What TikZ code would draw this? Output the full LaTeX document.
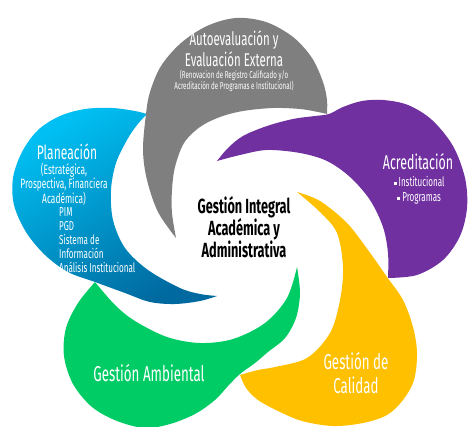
\documentclass[tikz,border=0pt]{standalone}
\usepackage{fontspec}
\setmainfont{Fira Sans}[FakeStretch=0.62]
\definecolor{pgray}{RGB}{127,127,127}
\definecolor{ppurple}{RGB}{112,48,160}
\definecolor{pyellow}{RGB}{255,192,0}
\definecolor{pgreen}{RGB}{0,204,102}
\definecolor{pblueA}{RGB}{0,192,243}
\definecolor{pblueB}{RGB}{0,106,160}
\newcommand\sqb{\raisebox{1.5pt}{\rule{3pt}{3pt}}}
\begin{document}
\begin{tikzpicture}[x=1pt,y=-1pt,
  petal/.style={smooth,tension=0.55},
  lbl/.style={text=white,align=center,inner sep=0pt}]
\useasboundingbox (0,0) rectangle (468,427);
% blue petal (Planeacion)
\shade[top color=pblueA,bottom color=pblueB,shading angle=30]
  plot[petal] coordinates {(217,296) (200,301) (175,304) (150,302) (125,293) (95,282) (68,272) (45,255) (26,232) (14,205) (13,178) (22,152) (38,130) (60,116) (85,109) (112,108) (135,111) (147,114)}
  -- plot[petal] coordinates {(147,114) (137,125) (127,140) (116,163) (111,190) (113,220) (125,248) (148,270) (180,288) (200,294) (217,296)}
  -- cycle;
% green petal (Gestion Ambiental)
\fill[pgreen]
  plot[petal] coordinates {(297,267) (300,293) (296,318) (285,338) (268,352) (255,363) (240,374) (228,386) (215,400) (195,414) (170,424) (145,428) (117,421) (92,407) (73,384) (64,356) (66,328) (78,303) (95,282)}
  -- plot[petal] coordinates {(95,282) (115,305) (135,321) (167,337) (200,343) (233,339) (265,323) (287,298) (297,267)}
  -- cycle;
% yellow petal (Calidad)
\fill[pyellow]
  plot[petal] coordinates {(297,192) (320,201) (347,223) (368,250) (387,277) (403,300) (413,327) (417,353) (414,380) (403,400) (387,415) (363,423) (333,426) (302,421) (278,411) (258,400) (246,388) (240,375)}
  -- plot[petal] coordinates {(240,375) (258,370) (275,367) (307,358) (330,333) (340,300) (343,267) (337,233) (320,212) (297,192)}
  -- cycle;
% purple petal (Acreditacion)
\fill[ppurple]
  plot[petal] coordinates {(217,161) (228,148) (243,136) (267,126) (293,119) (315,116) (329,114) (343,107) (362,101) (383,100) (408,105) (432,120) (453,146) (465,178) (467,208) (460,236) (443,260) (417,275) (388,278)}
  -- plot[petal] coordinates {(388,278) (388,253) (383,227) (370,200) (350,177) (327,161) (300,153) (267,150) (240,155) (217,161)}
  -- cycle;
% gray petal (Autoevaluacion)
\fill[pgray]
  plot[petal] coordinates {(176,238) (158,212) (147,180) (143,150) (146,114) (150,92) (161,66) (181,43) (207,26) (236,18) (266,22) (293,37) (312,58) (323,82) (327,100) (327,114)}
  -- plot[petal] coordinates {(327,114) (318,112) (300,109) (273,108) (243,111) (220,117) (200,127) (184,143) (175,167) (172,190) (172,213) (176,238)}
  -- cycle;
% texts
\node[lbl,font=\fontsize{18.5}{21}\selectfont] (autoT) at (234,49) {Autoevaluación y\\Evaluación Externa};
\node[lbl,font=\fontsize{10}{11}\selectfont] (autoC) at (234,81) {(Renovacion de Registro Calificado y/o\\Acreditación de Programas e Institucional)};
\node[lbl,font=\fontsize{19.5}{20}\selectfont] (plan) at (67,152) {Planeación};
\node[lbl,font=\fontsize{13.5}{14}\selectfont] (planA) at (64,184) {(Estratégica,\\Prospectiva, Financiera\\Académica)};
\node[lbl,font=\fontsize{13}{14}\selectfont,align=left,anchor=west] (planB) at (59,240) {PIM\\PGD\\Sistema de\\Información\\Análisis Institucional};
\node[lbl,font=\fontsize{20}{20}\selectfont] (acre) at (418,162) {Acreditación};
\node[lbl,font=\fontsize{13}{15}\selectfont] (acreL) at (419,190.5) {\sqb\ Institucional\\\sqb\ Programas};
\node[align=center,inner sep=0pt,font=\bfseries\fontsize{20.5}{21.5}\selectfont] (core) at (244,227) {Gestión Integral\\Académica y\\Administrativa};
\node[lbl,font=\fontsize{21.5}{22}\selectfont] (amb) at (149,373) {Gestión Ambiental};
\node[lbl,font=\fontsize{21.5}{24}\selectfont] (cal) at (356,373) {Gestión de\\Calidad};
\end{tikzpicture}
\end{document}
